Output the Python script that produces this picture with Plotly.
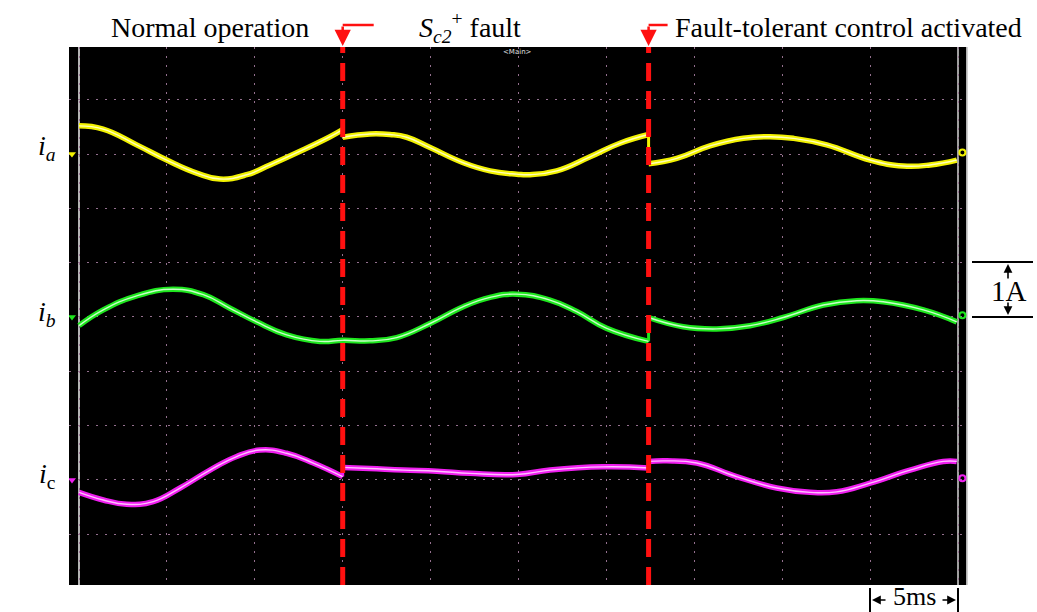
import plotly.graph_objects as go

# ---- waveform data (time in ms, current in A) ----
time_a = [0.0, 1.37, 3.28, 4.99, 6.70, 8.02, 9.54, 10.86, 12.76, 14.28, 15.0, 15.0,
          16.55, 17.69, 18.64, 19.97, 21.86, 23.38, 24.90, 25.65, 27.17, 29.07, 30.77,
          32.4, 32.4, 34.00, 35.89, 37.79, 39.31, 40.63, 42.53, 45.0, 46.89, 48.41, 49.93]
i_a = [0.52, 0.46, 0.17, -0.11, -0.35, -0.46, -0.38, -0.20, 0.08, 0.32, 0.45, 0.31,
       0.37, 0.36, 0.31, 0.12, -0.16, -0.31, -0.37, -0.38, -0.31, -0.05, 0.20,
       0.36, -0.18, -0.08, 0.15, 0.29, 0.32, 0.29, 0.17, -0.11, -0.22, -0.20, -0.11]

time_b = [0.0, 1.38, 3.28, 5.36, 7.07, 8.59, 10.10, 11.81, 13.71, 15.0, 16.55, 18.07,
          19.97, 21.86, 23.38, 24.90, 26.79, 28.31, 30.02, 32.4, 32.4, 34.37, 36.27,
          38.17, 40.06, 42.34, 44.24, 45.75, 48.03, 49.93]
i_b = [-0.16, 0.13, 0.39, 0.51, 0.41, 0.16, -0.09, -0.33, -0.45, -0.43, -0.44, -0.38,
       -0.12, 0.19, 0.36, 0.42, 0.31, 0.10, -0.21, -0.45, -0.01, -0.18, -0.22,
       -0.16, -0.01, 0.22, 0.30, 0.28, 0.13, -0.09]

time_c = [0.0, 1.38, 2.71, 4.22, 5.75, 7.45, 8.97, 10.29, 11.81, 13.33, 15.0, 15.0,
          16.55, 18.45, 20.35, 22.24, 24.90, 26.79, 29.82, 32.4, 32.4, 33.43, 35.14,
          37.41, 39.69, 41.58, 43.10, 45.0, 47.27, 49.16, 49.93]
i_c = [-0.23, -0.37, -0.45, -0.40, -0.15, 0.18, 0.43, 0.55, 0.49, 0.31, 0.06, 0.23,
       0.21, 0.18, 0.16, 0.12, 0.10, 0.18, 0.24, 0.22, 0.34, 0.35, 0.31,
       0.06, -0.15, -0.23, -0.22, -0.06, 0.18, 0.34, 0.34]

event_times = [15.0, 32.4]          # fault instant, fault-tolerant control on
event_labels = ["Normal operation",
                "<i>S</i><sub><i>c2</i></sub><sup>+</sup> fault",
                "Fault-tolerant control activated"]

# channel name, data, vertical offset (div), trace colour, core colour, label
channels = [
    ("a", time_a, i_a, 3, "#f2f200", "#ffffb8", "<i>i</i><sub><i>a</i></sub>"),
    ("b", time_b, i_b, 0, "#1ee61e", "#c8ffc8", "<i>i</i><sub><i>b</i></sub>"),
    ("c", time_c, i_c, -3, "#f01ef0", "#ffc0ff", "<i>i</i><sub>c</sub>"),
]

W, H = 1037, 612
L, R, T, B = 69, 968, 47, 585      # plot area in pixels
X_RANGE = [-0.569, 50.569]
Y_RANGE = [-4.936, 4.972]
MS_PX = (R - L) / (X_RANGE[1] - X_RANGE[0])
SERIF = "Liberation Serif, Times New Roman, serif"


def pxx(px):
    return (px - L) / (R - L)


def pxy(py):
    return (B - py) / (B - T)


def split_jumps(t, v, off):
    """Smooth runs separated by None plus the vertical step segments."""
    sx, sy, jx, jy = [], [], [], []
    for k in range(len(t)):
        if k > 0 and t[k] == t[k - 1]:
            sx.append(None)
            sy.append(None)
            jx += [t[k - 1], t[k], None]
            jy += [v[k - 1] + off, v[k] + off, None]
        sx.append(t[k])
        sy.append(v[k] + off)
    return sx, sy, jx, jy


fig = go.Figure()

for name, t, v, off, col, core, _ in channels:
    sx, sy, jx, jy = split_jumps(t, v, off)
    fig.add_trace(go.Scatter(x=sx, y=sy, mode="lines",
                             line=dict(color=col, width=5.5, shape="spline", smoothing=1.3),
                             connectgaps=False, hoverinfo="skip", showlegend=False))
    fig.add_trace(go.Scatter(x=jx, y=jy, mode="lines", line=dict(color=col, width=3),
                             hoverinfo="skip", showlegend=False))
    fig.add_trace(go.Scatter(x=sx, y=sy, mode="lines",
                             line=dict(color=core, width=1.4, shape="spline", smoothing=1.3),
                             connectgaps=False, hoverinfo="skip", showlegend=False))
    # channel ground markers on both edges
    fig.add_trace(go.Scatter(x=[-0.4], y=[off], mode="markers",
                             marker=dict(symbol="triangle-down", size=7, color=col),
                             hoverinfo="skip", showlegend=False))
    fig.add_trace(go.Scatter(x=[50.25], y=[off + 0.03], mode="markers",
                             marker=dict(symbol="circle-open", size=6, color=col, line=dict(width=2)),
                             hoverinfo="skip", showlegend=False))

shapes = []
# instrument frame lines
for xv, c in [(0, "#b4b4b4"), (50, "#a0a0a0"), (50.52, "#d0d0d0")]:
    shapes.append(dict(type="line", xref="x", yref="paper", x0=xv, x1=xv, y0=0, y1=1,
                       line=dict(color=c, width=2), layer="below"))
# event markers
for te in event_times:
    shapes.append(dict(type="line", xref="x", yref="paper", x0=te, x1=te, y0=0, y1=1,
                       line=dict(color="#ff1010", width=5, dash="18px,10px")))
arm = [31, 19]
for te, a in zip(event_times, arm):
    shapes.append(dict(type="line", xref="x", yref="paper", x0=te, x1=te + a / MS_PX,
                       y0=pxy(25), y1=pxy(25), line=dict(color="#ff1010", width=2.5)))

# 1 A scale bar
for py in (262, 317):
    shapes.append(dict(type="line", xref="paper", yref="paper", x0=pxx(972), x1=pxx(1033),
                       y0=pxy(py), y1=pxy(py), line=dict(color="black", width=2)))
# 5 ms scale bar
for px in (870, 958):
    shapes.append(dict(type="line", xref="paper", yref="paper", x0=pxx(px), x1=pxx(px),
                       y0=pxy(588), y1=pxy(612), line=dict(color="black", width=2)))

ann = []
# headline labels
for text, cx in zip(event_labels, [210, 470, 848]):
    ann.append(dict(text=text, xref="paper", yref="paper", x=pxx(cx), y=pxy(27),
                    xanchor="center", yanchor="middle", showarrow=False,
                    font=dict(family=SERIF, size=28, color="black")))
# red arrows
for te in event_times:
    ann.append(dict(text="", xref="x", yref="paper", x=te, y=pxy(46), showarrow=True,
                    ax=0, ay=-21, arrowhead=2, arrowsize=1.3, arrowwidth=2.5,
                    arrowcolor="#ff1010"))
# channel labels
for (name, t, v, off, col, core, lab), cy in zip(channels, [147, 313, 475]):
    ann.append(dict(text=lab, xref="paper", yref="paper", x=pxx(47), y=pxy(cy),
                    xanchor="center", yanchor="middle", showarrow=False,
                    font=dict(family=SERIF, size=28, color="black")))
# scale texts and arrows
ann.append(dict(text="1A", xref="paper", yref="paper", x=pxx(1009), y=pxy(291),
                xanchor="center", yanchor="middle", showarrow=False,
                font=dict(family=SERIF, size=29, color="black")))
ann.append(dict(text="", xref="paper", yref="paper", x=pxx(1008), y=pxy(264), showarrow=True,
                ax=0, ay=16, arrowhead=2, arrowsize=1.1, arrowwidth=1.6, arrowcolor="black"))
ann.append(dict(text="", xref="paper", yref="paper", x=pxx(1008), y=pxy(315), showarrow=True,
                ax=0, ay=-14, arrowhead=2, arrowsize=1.1, arrowwidth=1.6, arrowcolor="black"))
ann.append(dict(text="5ms", xref="paper", yref="paper", x=pxx(914), y=pxy(611.5),
                xanchor="center", yanchor="bottom", showarrow=False, borderpad=0,
                font=dict(family=SERIF, size=26, color="black")))
ann.append(dict(text="", xref="paper", yref="paper", x=pxx(872), y=pxy(600), showarrow=True,
                ax=15, ay=0, arrowhead=2, arrowsize=1.1, arrowwidth=1.6, arrowcolor="black"))
ann.append(dict(text="", xref="paper", yref="paper", x=pxx(956), y=pxy(600), showarrow=True,
                ax=-15, ay=0, arrowhead=2, arrowsize=1.1, arrowwidth=1.6, arrowcolor="black"))
# timebase tag
ann.append(dict(text="&lt;Main&gt;", xref="paper", yref="paper", x=pxx(517), y=pxy(52),
                xanchor="center", yanchor="middle", showarrow=False,
                font=dict(family="DejaVu Sans", size=7, color="#e0e0e0")))

grid_col = "#94708e"
fig.update_layout(
    width=W, height=H,
    margin=dict(l=L, r=W - R, t=T, b=H - B, pad=0),
    paper_bgcolor="white", plot_bgcolor="black",
    shapes=shapes, annotations=ann, showlegend=False,
    xaxis=dict(range=X_RANGE, tick0=0, dtick=5, showgrid=True, gridcolor=grid_col,
               griddash="2px,7px", gridwidth=1, zeroline=False, showticklabels=False,
               ticks="", showline=False, fixedrange=True),
    yaxis=dict(range=Y_RANGE, tick0=0, dtick=1, showgrid=True, gridcolor=grid_col,
               griddash="2px,7px", gridwidth=1, zeroline=False, showticklabels=False,
               ticks="", showline=False, fixedrange=True),
)

fig.write_html("out.html", config={"displayModeBar": False})
